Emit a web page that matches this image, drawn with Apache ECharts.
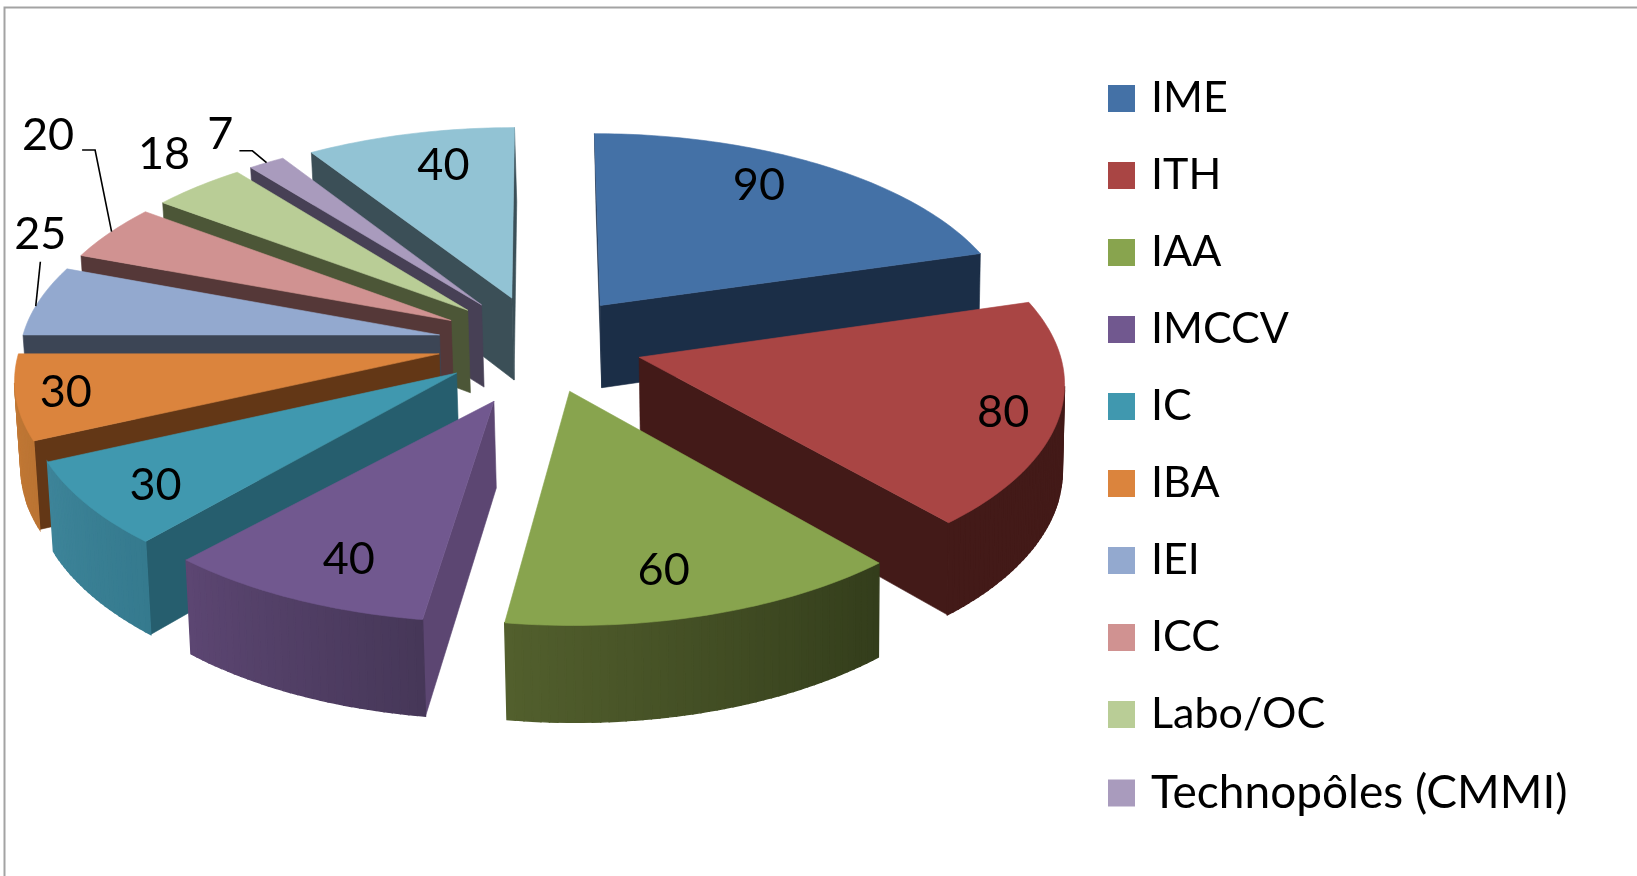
<!DOCTYPE html>
<html>
<head>
<meta charset="utf-8">
<title>Répartition</title>
<script src="https://cdn.jsdelivr.net/npm/echarts@6/dist/echarts.min.js"></script>
<style>
  html, body { margin: 0; padding: 0; background: #fff; }
  #chart { width: 1637px; height: 876px; }
</style>
</head>
<body>
<div id="chart"></div>
<script>
// valeurs, dans le sens horaire depuis midi
var names = ['IME', 'ITH', 'IAA', 'IMCCV', 'IC', 'IBA', 'IEI', 'ICC', 'Labo/OC', 'Technopôles (CMMI)', 'Sans légende'];
var values = [90, 80, 60, 40, 30, 30, 25, 20, 18, 7, 40];
var legendNames = names.slice(0, 10);

var topColors = ['#4471a6', '#a94544', '#88a44e', '#71588f', '#4098af', '#db843d', '#93a9cf', '#d09291', '#b9cd96', '#a99bbd', '#92c3d4'];
var sideColors = ['#1b2e47', '#431a18', '#39441f', '#5c4672', '#265e6e', '#633716', '#3c4555', '#553838', '#4c5637', '#474055', '#3b4f57'];
var rimFrom = ['#1b2e47', '#431a18', '#525f2d', '#5c4672', '#3d8499', '#c47a36', '#3c4555', '#553838', '#4c5637', '#474055', '#3b4f57'];
var rimTo = ['#1b2e47', '#431a18', '#333d1b', '#463758', '#357a8e', '#bb7433', '#3c4555', '#553838', '#4c5637', '#474055', '#3b4f57'];

// position des étiquettes : rayon relatif, décalage en degrés depuis le milieu de la part
var labelRadius = [0.80, 0.873, 0.81, 0.813, 0.836, 0.885, 1.161, 1.542, 1.214, 1.223, 0.784];
var labelTurn = [-4.7, 1.3, 2.5, -2.35, -1.4, -0.2, 17.5, 15.3, 3, -0.4, 2.6];
// traits de rappel : départ et coude relatifs à l'étiquette, fraction de l'arc visée
var leaders = [null, null, null, null, null, null,
  { from: [0, 27], elbow: [0, 27], rim: 0.42 },
  { from: [34, 15], elbow: [47, 15], rim: 0.52 },
  null,
  { from: [19, 16], elbow: [32, 16], rim: 0.5 },
  null];

var CX = 540, CY = 343.5, RX = 418.5, RY = 198;
var CAMERA = 9.3, EXPLODE = 0.245, DEPTH = 84, VANISH_X = 794, VANISH_PULL = 0.008;
// la pointe de la part IMCCV est un peu décalée sur l'original
var apexShift = [null, null, null, [-0.005, 0.06], null, null, null, null, null, null, null];
var TOTAL = values.reduce(function (a, b) { return a + b; }, 0);

function project(u, v) {
  var s = CAMERA / (CAMERA - v);
  return { x: CX + RX * u * s, y: CY + RY * v * s, s: s };
}
function lower(p) {
  return [p.x + (VANISH_X - p.x) * VANISH_PULL, p.y + DEPTH * p.s];
}
function quad(a, b, color, seam) {
  return {
    type: 'polygon',
    shape: { points: [[a.x, a.y], [b.x, b.y], lower(b), lower(a)] },
    style: { fill: color, stroke: color, lineWidth: seam }
  };
}

function drawSlice(index, value) {
  var before = 0;
  for (var k = 0; k < index; k++) before += values[k];
  var start = before / TOTAL * Math.PI * 2;
  var sweep = value / TOTAL * Math.PI * 2;
  var mid = start + sweep / 2;
  var ou = Math.sin(mid) * EXPLODE, ov = -Math.cos(mid) * EXPLODE;

  function at(radius, angle) {
    return project(ou + radius * Math.sin(angle), ov - radius * Math.cos(angle));
  }

  var shift = apexShift[index] || [0, 0];
  var apex = project(ou + shift[0], ov + shift[1]);
  var steps = Math.max(6, Math.round(value * 0.8));
  var rim = [];
  for (var i = 0; i <= steps; i++) rim.push(at(1, start + sweep * i / steps));

  var children = [];
  // murs visibles : arête parcourue de droite à gauche sur le contour horaire
  if (rim[0].x < apex.x) children.push(quad(apex, rim[0], sideColors[index], 0.6));
  if (apex.x < rim[steps].x) children.push(quad(rim[steps], apex, sideColors[index], 0.6));
  for (i = 0; i < steps; i++) {
    if (rim[i + 1].x < rim[i].x) {
      children.push(quad(rim[i], rim[i + 1], echarts.color.lerp(1 - (i + 0.5) / steps, [rimFrom[index], rimTo[index]]), 1.4));
    }
  }
  children.push({
    type: 'polygon',
    shape: { points: [[apex.x, apex.y]].concat(rim.map(function (p) { return [p.x, p.y]; })) },
    style: { fill: topColors[index], stroke: topColors[index], lineWidth: 0.6 }
  });

  var label = at(labelRadius[index], mid + labelTurn[index] * Math.PI / 180);
  var lead = leaders[index];
  if (lead) {
    var target = at(1, start + sweep * lead.rim);
    children.push({
      type: 'polyline',
      shape: { points: [
        [label.x + lead.from[0], label.y + lead.from[1]],
        [label.x + lead.elbow[0], label.y + lead.elbow[1]],
        [target.x, target.y]
      ] },
      style: { fill: 'none', stroke: '#000', lineWidth: 1.6 }
    });
  }
  children.push({
    type: 'text',
    style: {
      x: label.x, y: label.y, text: String(value),
      align: 'center', verticalAlign: 'middle',
      font: '45px Lato', fill: '#000'
    }
  });
  return { type: 'group', children: children };
}

// ordre de dessin : du fond vers l'avant
function depthOf(index) {
  var before = 0;
  for (var k = 0; k < index; k++) before += values[k];
  return -Math.cos((before + values[index] / 2) / TOTAL * Math.PI * 2);
}
var order = names.map(function (n, i) { return i; }).sort(function (a, b) { return depthOf(a) - depthOf(b); });

var chart = echarts.init(document.getElementById('chart'));
chart.setOption({
  backgroundColor: '#fff',
  animation: false,
  graphic: [{
    type: 'rect', z: 0, silent: true,
    shape: { x: 4.5, y: 7.5, width: 1800, height: 1000 },
    style: { fill: 'none', stroke: '#a3a3a3', lineWidth: 2 }
  }],
  legend: {
    data: legendNames,
    orient: 'vertical',
    left: 1108,
    top: 77,
    padding: 0,
    icon: 'rect',
    itemWidth: 27,
    itemHeight: 27,
    itemGap: 34,
    selectedMode: false,
    formatter: function (name) {
      return name.length > 10 ? '{wide|' + name + '}' : name;
    },
    textStyle: {
      fontFamily: 'Lato', fontSize: 43, lineHeight: 43, color: '#000', padding: [0, 0, 0, 11],
      rich: { wide: { fontFamily: 'Lato', fontSize: 46, lineHeight: 43, color: '#000' } }
    }
  },
  series: names.map(function (name, i) {
    return {
      type: 'custom',
      name: name,
      coordinateSystem: 'none',
      z: 2 + order.indexOf(i),
      silent: true,
      itemStyle: { color: topColors[i] },
      data: [[values[i]]],
      renderItem: function (params, api) {
        return drawSlice(i, api.value(0));
      }
    };
  })
});
</script>
</body>
</html>
